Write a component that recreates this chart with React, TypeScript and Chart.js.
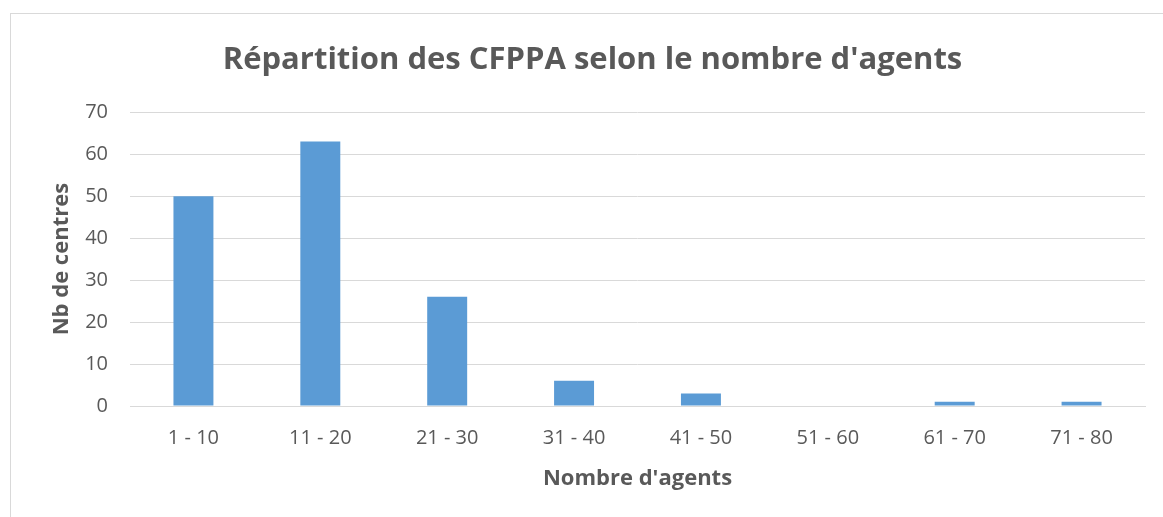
import React, { useEffect, useRef } from "react";
import { Chart, registerables } from "chart.js";

Chart.register(...registerables);

const categories = ["1 - 10", "11 - 20", "21 - 30", "31 - 40", "41 - 50", "51 - 60", "61 - 70", "71 - 80"];
const values = [50, 63, 26, 6, 3, 0, 1, 1];
const titleText = "Répartition des CFPPA selon le nombre d'agents";
const yTitle = "Nb de centres";
const xTitle = "Nombre d'agents";

const FONT = "'Open Sans', sans-serif";
const GREY = "#595959";

export default function App() {
  const ref = useRef<HTMLCanvasElement>(null);
  useEffect(() => {
    document.body.style.margin = "0";
    const chart = new Chart(ref.current!, {
      type: "bar",
      data: {
        labels: categories,
        datasets: [
          {
            data: values,
            backgroundColor: "#5b9bd5",
            barPercentage: 0.63,
            categoryPercentage: 0.5,
          },
        ],
      },
      options: {
        responsive: false,
        animation: false,
        layout: { padding: { left: 40, right: 18, top: 0, bottom: 0 } },
        plugins: {
          legend: { display: false },
          tooltip: { enabled: false },
          title: {
            display: true,
            text: titleText,
            color: GREY,
            font: { family: FONT, size: 31, weight: "bold", lineHeight: 1.2 },
            padding: { top: 42, bottom: 33 },
          },
        },
        scales: {
          x: {
            grid: { display: false, drawTicks: false },
            border: { color: "#d9d9d9", width: 1 },
            ticks: { color: GREY, font: { family: FONT, size: 20 }, padding: 20 },
            title: {
              display: true,
              text: xTitle,
              color: GREY,
              font: { family: FONT, size: 22, weight: "bold", lineHeight: 1.2 },
              padding: { top: 0, bottom: 25 },
            },
            afterFit: (s: any) => {
              s.height = 111;
            },
          },
          y: {
            min: 0,
            max: 70,
            ticks: { stepSize: 10, color: GREY, font: { family: FONT, size: 20 }, padding: 22 },
            grid: { color: "#d9d9d9", drawTicks: false },
            border: { display: false },
            title: {
              display: true,
              text: yTitle,
              color: GREY,
              font: { family: FONT, size: 22, weight: "bold", lineHeight: 1.2 },
              padding: { top: 9, bottom: 0 },
            },
            afterFit: (s: any) => {
              s.width = 90;
            },
          },
        },
      },
    });
    return () => chart.destroy();
  }, []);
  return (
    <div style={{ position: "fixed", left: 0, top: 0, width: 1163, height: 517, overflow: "hidden", background: "#fff" }}>
      <div
        style={{
          position: "absolute",
          left: 10,
          top: 13,
          width: 1300,
          height: 700,
          border: "1px solid #d9d9d9",
          boxSizing: "border-box",
        }}
      />
      <canvas ref={ref} width={1163} height={517} style={{ position: "absolute", left: 0, top: 0 }} />
    </div>
  );
}
